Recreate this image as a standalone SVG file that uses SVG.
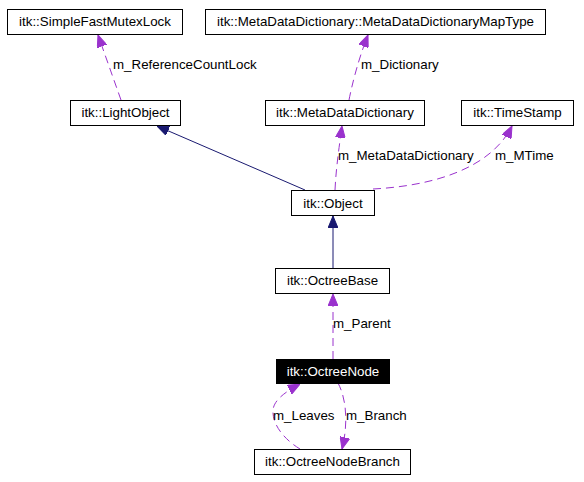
<svg xmlns="http://www.w3.org/2000/svg" width="584" height="482" viewBox="0 0 584 482">
<style>
.box{fill:#ffffff;stroke:#000000;stroke-width:1}
.sel{fill:#000000;stroke:#000000;stroke-width:1}
.t{font-family:"Liberation Sans",Arial,sans-serif;font-size:13.33px;fill:#000000;text-anchor:middle}
.tw{font-family:"Liberation Sans",Arial,sans-serif;font-size:13.33px;fill:#ffffff;text-anchor:middle}
.lbl{font-family:"Liberation Sans",Arial,sans-serif;font-size:13.33px;fill:#000000}
.inh{fill:none;stroke:#191970;stroke-width:1}
.use{fill:none;stroke:#9a32cd;stroke-width:1;stroke-dasharray:8,5}
</style>
<defs>
<marker id="aInh" viewBox="0 0 12 10" refX="12" refY="5" markerWidth="12" markerHeight="10" markerUnits="userSpaceOnUse" orient="auto">
<path d="M0,0 L12,5 L0,10 z" fill="#191970" stroke="#191970"/>
</marker>
<marker id="aUse" viewBox="0 0 12 10" refX="12" refY="5" markerWidth="12" markerHeight="10" markerUnits="userSpaceOnUse" orient="auto">
<path d="M0,0 L12,5 L0,10 z" fill="#9a32cd" stroke="#9a32cd"/>
</marker>
</defs>
<rect width="584" height="482" fill="#ffffff"/>
<g id="connectors">
<path class="use" d="M121,100 L98,35" marker-end="url(#aUse)"/>
<path class="use" d="M349,100 C352,85 358,60 368,35" marker-end="url(#aUse)"/>
<path class="inh" d="M305,190 L157,126" marker-end="url(#aInh)"/>
<path class="use" d="M335,190 C336,170 338,155 342,126" marker-end="url(#aUse)"/>
<path class="use" d="M373,189 C430,186 490,170 512,126" marker-end="url(#aUse)"/>
<path class="inh" d="M333,268 L333,216" marker-end="url(#aInh)"/>
<path class="use" d="M333,359 L333,294" marker-end="url(#aUse)"/>
<path class="use" d="M300,449 C285,440 272,425 273,410 C274,400 285,392 300,384" marker-end="url(#aUse)"/>
<path class="use" d="M338,383 C347,400 348,425 342,449" marker-end="url(#aUse)"/>
<text class="lbl" x="113" y="69">m_ReferenceCountLock</text>
<text class="lbl" x="361" y="69">m_Dictionary</text>
<text class="lbl" x="338" y="160">m_MetaDataDictionary</text>
<text class="lbl" x="495" y="160">m_MTime</text>
<text class="lbl" x="333" y="328">m_Parent</text>
<text class="lbl" x="273" y="420">m_Leaves</text>
<text class="lbl" x="346" y="420">m_Branch</text>
</g>
<g id="SimpleFastMutexLock"><rect class="box" x="7.5" y="9.5" width="175" height="25"/><text class="t" x="95" y="26">itk::SimpleFastMutexLock</text></g>
<g id="MetaDataDictionaryMapType"><rect class="box" x="205.5" y="9.5" width="340" height="25"/><text class="t" x="375.5" y="26">itk::MetaDataDictionary::MetaDataDictionaryMapType</text></g>
<g id="LightObject"><rect class="box" x="70.5" y="100.5" width="110" height="25"/><text class="t" x="125.5" y="117">itk::LightObject</text></g>
<g id="MetaDataDictionary"><rect class="box" x="265.5" y="100.5" width="159" height="25"/><text class="t" x="345" y="117">itk::MetaDataDictionary</text></g>
<g id="TimeStamp"><rect class="box" x="461.5" y="100.5" width="112" height="25"/><text class="t" x="517.5" y="117">itk::TimeStamp</text></g>
<g id="Object"><rect class="box" x="291.5" y="190.5" width="83" height="25"/><text class="t" x="333" y="208">itk::Object</text></g>
<g id="OctreeBase"><rect class="box" x="275.5" y="268.5" width="114" height="25"/><text class="t" x="332.5" y="285">itk::OctreeBase</text></g>
<g id="OctreeNode"><rect class="sel" x="276.5" y="359.5" width="113" height="24"/><text class="tw" x="333" y="376">itk::OctreeNode</text></g>
<g id="OctreeNodeBranch"><rect class="box" x="254.5" y="449.5" width="156" height="25"/><text class="t" x="332.5" y="466">itk::OctreeNodeBranch</text></g>
</svg>
